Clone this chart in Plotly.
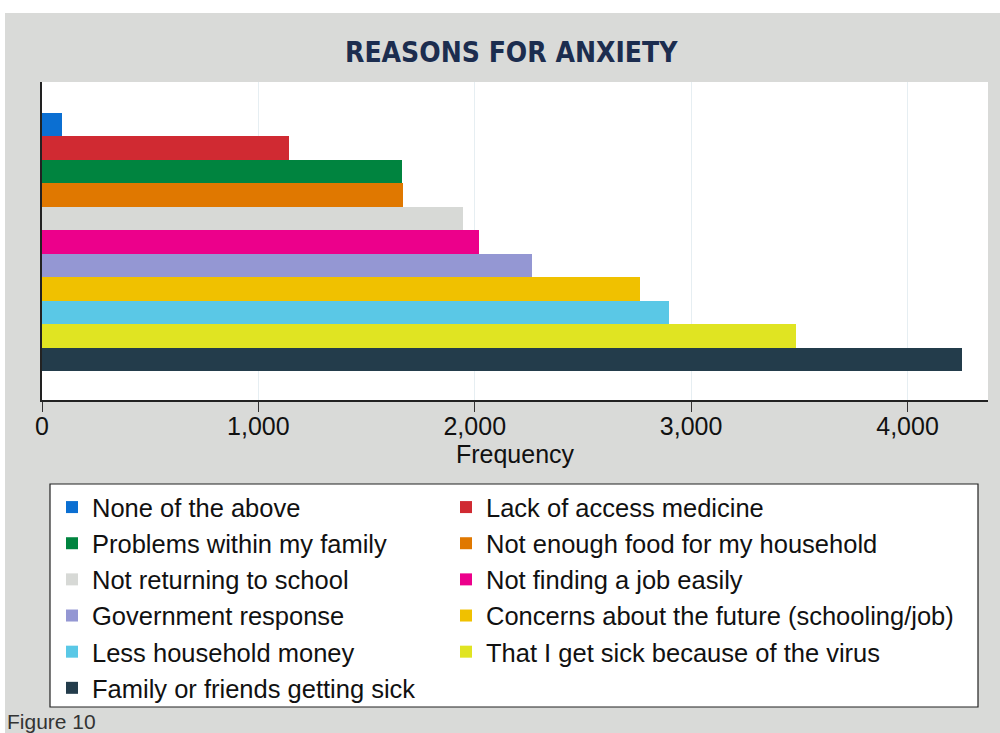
import plotly.graph_objects as go

# ---- data ----
categories = [
    "None of the above",
    "Lack of access medicine",
    "Problems within my family",
    "Not enough food for my household",
    "Not returning to school",
    "Not finding a job easily",
    "Government response",
    "Concerns about the future (schooling/job)",
    "Less household money",
    "That I get sick because of the virus",
    "Family or friends getting sick",
]
values = [93, 1142, 1663, 1667, 1946, 2020, 2263, 2765, 2896, 3484, 4254]
tick_vals = [0, 1000, 2000, 3000, 4000]
tick_text = ["0", "1,000", "2,000", "3,000", "4,000"]

colors = ["#0b6fd2", "#d02a32", "#00843f", "#e07800", "#d7d9d6", "#ec008b",
          "#9497d3", "#f0c100", "#5ac8e6", "#e0e422", "#233c4b"]

W, H = 1000, 733
ML, MR, MT, MB = 42, 12, 82, 333
PW = W - ML - MR
PH = H - MT - MB


def px_x(px):
    return (px - ML) / PW


def px_y(py):
    return (H - MB - py) / PH


fig = go.Figure()
n = len(categories)
for i, (cat, val, col) in enumerate(zip(categories, values, colors)):
    fig.add_trace(go.Bar(
        x=[val], y=[n - 1 - i], orientation="h", width=1.0,
        name=cat, marker=dict(color=col, line=dict(width=0)),
        showlegend=True,
        legend="legend" if i % 2 == 0 else "legend2",
    ))

legend_common = dict(
    orientation="v",
    y=px_y(484), yanchor="top",
    bgcolor="rgba(0,0,0,0)", borderwidth=0,
    font=dict(size=25.5, color="#111111"),
    traceorder="normal",
)

fig.update_layout(
    width=W, height=H,
    margin=dict(l=ML, r=MR, t=MT, b=MB),
    paper_bgcolor="#d9dad8",
    plot_bgcolor="#ffffff",
    barmode="overlay",
    bargap=0,
    font=dict(family="Liberation Sans, Arial, sans-serif", color="#111111"),
    xaxis=dict(
        range=[0, 4372], tickvals=tick_vals, ticktext=tick_text,
        showgrid=True, gridcolor="#e6eef2", gridwidth=1,
        zeroline=False, showline=True, linecolor="#222222", linewidth=1.5,
        ticks="outside", ticklen=10, tickcolor="#333333", tickwidth=1.2,
        ticklabelstandoff=-7,
        tickfont=dict(size=25, color="#111111"),
        title=dict(text="Frequency", font=dict(size=25, color="#111111"), standoff=0),
    ),
    yaxis=dict(
        range=[-1.72, 11.81], showticklabels=False, showgrid=False,
        zeroline=False, showline=True, linecolor="#222222", linewidth=1.5,
        ticks="",
    ),
    legend=dict(x=px_x(52), xanchor="left", **legend_common),
    legend2=dict(x=px_x(446), xanchor="left", **legend_common),
    shapes=[
        dict(type="rect", xref="paper", yref="paper",
             x0=px_x(0), x1=px_x(1000), y0=px_y(13), y1=px_y(-2),
             fillcolor="#ffffff", line=dict(width=0), layer="below"),
        dict(type="rect", xref="paper", yref="paper",
             x0=px_x(-2), x1=px_x(5), y0=px_y(740), y1=px_y(-2),
             fillcolor="#ffffff", line=dict(width=0), layer="below"),
        dict(type="rect", xref="paper", yref="paper",
             x0=px_x(50), x1=px_x(978), y0=px_y(707), y1=px_y(484),
             fillcolor="#ffffff", line=dict(width=1.2, color="#222222"),
             layer="below"),
    ],
    annotations=[
        dict(text="<b>REASONS FOR ANXIETY</b>", xref="paper", yref="paper",
             x=px_x(511), y=px_y(53), xanchor="center", yanchor="middle",
             showarrow=False,
             font=dict(family="DejaVu Sans Condensed, Liberation Sans Narrow, sans-serif",
                       size=28, color="#1c2d4f")),
        dict(text="Figure 10", xref="paper", yref="paper",
             x=px_x(5), y=px_y(721), xanchor="left", yanchor="middle",
             showarrow=False,
             font=dict(size=21, color="#333333")),
    ],
)

fig.write_html("out.html", config={"displayModeBar": False},
               post_script="document.body.style.margin='0';")
